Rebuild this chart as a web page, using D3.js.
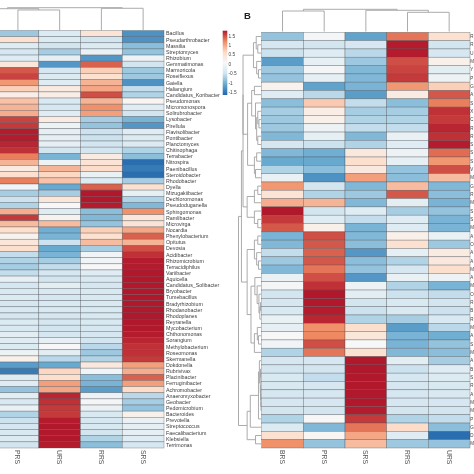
<!DOCTYPE html>
<html>
<head>
<meta charset="utf-8">
<script src="https://cdn.jsdelivr.net/npm/d3@7"></script>
<style>
html,body{margin:0;padding:0;background:#fff;overflow:hidden;width:474px;height:474px}
svg{display:block;filter:blur(0.4px)}
text{font-family:"Liberation Sans",Arial,sans-serif}
</style>
</head>
<body>
<svg id="c" width="474" height="474"></svg>
<script>
const columnsA = ["PRS","URS","RRS","SRS"];
const hiddenColumnA = "(cropped)";
const genera = ["Bacillus","Pseudarthrobacter","Massilia","Streptomyces","Rhizobium","Gemmatimonas","Marmoricola","Roseiflexus","Gaiella","Haliangium","Candidatus_Koribacter","Pseudomonas","Micromonospora","Solirubrobacter","Lysobacter","Pirellula","Flavisolibacter","Pontibacter","Planctomyces","Chitinophaga","Terrabacter","Nitrospira","Paenibacillus","Steroidobacter","Rhodobacter","Dyella","Mizugakiibacter","Dechloromonas","Pseudoduganella","Sphingomonas","Ramlibacter","Microvirga","Nocardia","Phenylobacterium","Opitutus","Devosia","Acidibacter","Rhizomicrobium","Terracidiphilus","Variibacter","Aquicella","Candidatus_Solibacter","Bryobacter","Tumebacillus","Bradyrhizobium","Rhodanobacter","Rhodoplanes","Reyranella","Mycobacterium","Chthonomonas","Sorangium","Methylobacterium","Roseomonas","Skermanella","Dokdonella","Rubrivivax","Placinibacter","Ferruginibacter","Achromobacter","Anaeromyxobacter","Geobacter","Pedomicrobium","Bacteroides","Prevotella","Streptococcus","Faecalibacterium","Klebsiella","Terrimonas"];
const valuesA = [
[-.8,-.35,.45,-1.3],[.5,-.35,-.5,-1.3],[-.3,-.5,-.35,-.9],[-.45,-.75,-.15,-.85],[-.3,-.2,-1.25,-.1],
[.4,-1.25,1.4,-.5],[1.45,-.45,.7,-.8],[1.55,-.35,.5,-.8],[1.1,-.3,.9,-1.3],[.7,.3,1,-.6],
[.25,.25,1.5,-.7],[.8,-.4,.9,.1],[.9,-.45,1.15,-.3],[.95,-.3,1.05,-.5],[1.55,.3,-.75,-1],
[1.6,-.1,-.85,-1.25],[1.75,-.2,-.55,-.3],[1.75,-.2,-.55,-.35],[1.7,-.2,-.5,-.35],[1.65,-.5,-.5,-.7],
[1.25,-1,.3,-.9],[.9,-.1,.45,-1.6],[.3,.9,.6,-1.5],[.5,.65,-.15,-1.6],[1.25,.8,-.35,-.75],
[-.05,-1.1,1.4,.5],[-.75,-.75,1.77,-.2],[-.55,.4,1.77,-.7],[-.7,.05,1.75,-.95],[.95,-.3,-.9,1.15],
[1.6,.15,-.95,.4],[.85,.85,-.85,.45],[.55,-1.05,.7,1],[.15,-1,.5,1.4],[.4,-.55,.85,.9],
[.55,-1.1,-.75,1.5],[-.6,-1,-.05,1.65],[-.7,-.75,-.05,1.75],[-.75,-.6,.05,1.75],[-.6,-.45,-.3,1.77],
[-.2,-.5,-.4,1.77],[-.45,-.25,-.45,1.77],[-.4,-.4,-.4,1.77],[-.35,-.45,-.4,1.77],[-.45,-.4,-.4,1.77],
[-.4,-.4,-.4,1.77],[-.45,-.45,-.4,1.77],[-.35,-.45,-.4,1.77],[-.4,-.5,-.45,1.77],[-.25,-.45,-.45,1.75],
[-.3,-.2,-.5,1.7],[-.35,.05,-.65,1.65],[-.1,-.25,-.8,1.65],[.2,-.65,-.7,1.6],[-1.2,-1.1,.35,1.05],
[-1.5,.65,-.05,.95],[-.35,.55,-.9,1.4],[-.3,1.05,-1,1.05],[-.85,1,-1.2,.6],[-.25,1.7,-.1,-.65],
[-.4,1.65,0,-.75],[-.15,1.6,-.15,-.85],[-.7,1.6,-.4,.2],[-.55,1.75,-.45,-.15],[-.45,1.77,-.4,-.2],
[-.4,1.77,-.5,-.2],[-.35,1.77,-.7,-.3],[-.5,1.75,-.9,-.45]
];
const columnsB = ["BRS","PRS","SRS","RRS","URS"];
const rowInitialsB = ["R","R","U","M","Y","P","G","A","S","X","C","R","R","S","S","S","V","M","G","R","M","S","S","M","A","O","A","A","M","A","M","O","R","B","R","M","A","S","M","A","B","S","R","A","M","M","P","G","D","M"];
const valuesB = [
[-.85,0,-1.15,1.3,.5],[-.45,-.5,-.45,1.75,-.5],[-.55,-.3,-.65,1.75,-.45],[-1.2,-.2,-.8,1.5,.2],[-.8,0,-.95,1.55,-.25],
[-.85,-.2,-.95,1.6,-.1],[.15,-1.15,-1,1.1,.7],[-.3,-.65,-1.2,.3,1.45],[-.9,.75,-.6,-.9,1.25],[-.75,.25,-.75,-.75,1.65],
[-.8,.2,-.7,-.7,1.6],[-.8,-.1,-.6,-.6,1.7],[-.95,-.2,-.95,-.15,1.65],[-.45,-.55,-.7,-.3,1.75],[-.95,-1.05,.35,-.1,1.35],
[-1.1,-1.1,.55,-.2,1.1],[-.7,-.9,.35,-.85,1.5],[-.15,-1.3,1.05,-.9,.85],[1.1,-.5,-.95,.85,-.95],[.45,-.7,-.8,1.45,-.9],
[.95,.9,-.95,-.25,-1],[1.77,-.5,-.3,-.75,-.85],[1.6,-.3,-.6,-.3,-1],[1.45,.2,-1,-.3,-1],[-1,1.5,-.95,.2,-.15],
[-.95,1.45,-.9,.5,-.8],[-.6,1.4,-1.25,-.2,.3],[-.8,1.45,-.9,-.7,.35],[-.95,1.3,-.85,-.45,.55],[-.15,1.5,-1.25,-.15,-.1],
[0,1.65,-.1,-.7,-1],[-.5,1.77,-.25,-.55,-.6],[-.45,1.77,-.5,-.4,-.5],[-.4,1.75,-.55,-.4,-.55],[-.15,1.7,-.7,-.75,-.4],
[-.2,1.15,.55,-1.2,-.65],[.05,1.2,.4,-1,-1.05],[-.05,1.5,.05,-1,-.85],[-.7,1.3,.5,-.95,-.9],[-.45,-.45,1.77,-.25,-.75],
[-.5,-.5,1.77,-.55,-.3],[-.4,-.6,1.77,-.45,-.35],[-.4,-.45,1.77,-.45,-.4],[-.45,-.45,1.77,-.45,-.4],[-.45,-.45,1.77,-.45,-.45],
[-.5,-.5,1.75,-.5,-.5],[-.7,.05,1.6,-.7,-.6],[-.35,-.95,1.3,.6,-.9],[.5,.1,1,-.3,-1.6],[1.15,-.85,.85,-.8,-.85]
];
// dendrograms: [mergeHeight, childA, childB]; leaves are row indices or column names
const treeColsA = [1,[.956,hiddenColumnA,[.9,"PRS","URS"]],[.974,"RRS","SRS"]];
const treeColsB = [1,[.923,"BRS","PRS"],[.955,"SRS",[.865,"RRS","URS"]]];
const clusterRowsA1 = [.34,[.22,0,[.15,1,2]],[.2,3,[.12,4,5]]];
const clusterRowsB1 = [.6,[.42,[.3,6,7],[.25,8,[.2,[.15,9,[.1,10,11]],[.15,12,13]]]],[.3,[.2,14,15],[.25,16,17]]];
const clusterRowsC1 = [.62,[.3,[.15,18,19],20],[.3,21,[.15,22,23]]];
const clusterRowsD1 = [.62,[.3,[.15,24,25],[.2,26,[.12,27,28]]],[.45,[.28,29,[.18,30,[.1,31,[.06,[.03,32,33],34]]]],[.3,[.17,35,[.12,36,37]],38]]];
const clusterRowsE1 = [.62,[.48,[.12,[.08,39,[.04,[.03,40,41],[.03,42,[.02,43,[.01,44,45]]]]],46],47],[.25,48,49]];
const treeRowsB = [1,[.87,[.8,[.8,clusterRowsA1,clusterRowsB1],clusterRowsC1],clusterRowsD1],clusterRowsE1];
const legendTicks = [-1.5,-1,-.5,0,.5,1,1.5];
const colorStops = ["#2166AC","#67A9CF","#D1E5F0","#F7F7F7","#FDDBC7","#EF8A62","#B2182B"];
const valueExtent = [-1.67,1.77];

const svg = d3.select("#c");
const defs = svg.append("defs");
const color = d3.scaleLinear()
  .domain(d3.range(colorStops.length).map(i=>valueExtent[0]+(valueExtent[1]-valueExtent[0])*i/(colorStops.length-1)))
  .range(colorStops).clamp(true);

function heat(g,cols,rowNames,vals,x,y){
  vals.forEach((row,r)=>{
    g.selectAll(null).data(row).join("rect")
      .attr("x",(d,i)=>x(cols[i])).attr("y",y(rowNames[r]))
      .attr("width",x.bandwidth()).attr("height",y.bandwidth())
      .attr("fill",d=>color(d)).attr("stroke","#4a4f55").attr("stroke-opacity",.6).attr("stroke-width",.55);
  });
}
function layout(node,pos,out){
  if(!Array.isArray(node)) return {p:pos(node),h:0};
  const a=layout(node[1],pos,out), b=layout(node[2],pos,out);
  out.push({h:node[0],a,b});
  return {p:(a.p+b.p)/2,h:node[0]};
}
function dendro(g,tree,pos,hs,vertical){
  const segs=[]; layout(tree,pos,segs);
  g.selectAll(null).data(segs).join("path")
    .attr("fill","none").attr("stroke","#a2a2a2").attr("stroke-width",.9)
    .attr("d",s=> vertical
      ? `M${s.a.p},${hs(s.a.h)}V${hs(s.h)}H${s.b.p}V${hs(s.b.h)}`
      : `M${hs(s.a.h)},${s.a.p}H${hs(s.h)}V${s.b.p}H${hs(s.b.h)}`);
}

// Panel A
const xA = d3.scaleBand().domain([hiddenColumnA,...columnsA]).range([-44.7,164]);
const yA = d3.scaleBand().domain(genera).range([30.5,448]);
const gA = svg.append("g");
heat(gA,columnsA,genera,valuesA,xA,yA);
dendro(gA,treeColsA,c=>xA(c)+xA.bandwidth()/2,d3.scaleLinear().domain([0,1]).range([30.5,7.7]),true);
gA.selectAll(null).data(genera).join("text")
  .attr("x",166).attr("y",d=>yA(d)+yA.bandwidth()/2).attr("dy",".36em")
  .attr("font-size",5.3).attr("fill","#3d3d3d").text(d=>d);
gA.selectAll(null).data(columnsA).join("text")
  .attr("transform",d=>`translate(${xA(d)+xA.bandwidth()/2},450) rotate(90)`).attr("dy",".36em")
  .attr("font-size",6.8).attr("fill","#555").text(d=>d);

// Panel B
const rowIdx = d3.range(valuesB.length);
const xB = d3.scaleBand().domain(columnsB).range([261.7,470]);
const yB = d3.scaleBand().domain(rowIdx).range([32.3,448]);
const gB = svg.append("g");
heat(gB,columnsB,rowIdx,valuesB,xB,yB);
dendro(gB,treeColsB,c=>xB(c)+xB.bandwidth()/2,d3.scaleLinear().domain([0,1]).range([31.5,9.3]),true);
dendro(gB,treeRowsB,i=>yB(i)+yB.bandwidth()/2,d3.scaleLinear().domain([0,1]).range([261.2,238.5]),false);
gB.selectAll(null).data(rowIdx).join("text")
  .attr("x",470.2).attr("y",i=>yB(i)+yB.bandwidth()/2).attr("dy",".36em")
  .attr("font-size",4.5).attr("fill","#3d3d3d").text(i=>rowInitialsB[i]);
gB.selectAll(null).data(columnsB).join("text")
  .attr("transform",d=>`translate(${xB(d)+xB.bandwidth()/2},450) rotate(90)`).attr("dy",".36em")
  .attr("font-size",6.8).attr("fill","#555").text(d=>d);
svg.append("text").attr("x",244).attr("y",18.5).attr("font-size",9.5).attr("font-weight","bold").attr("fill","#222").text("B");

// Legend
const legY = d3.scaleLinear().domain(valueExtent).range([95,30.7]);
const grad = defs.append("linearGradient").attr("id","lg").attr("x1",0).attr("x2",0).attr("y1",1).attr("y2",0);
grad.selectAll("stop").data(color.domain()).join("stop")
  .attr("offset",d=>(d-valueExtent[0])/(valueExtent[1]-valueExtent[0])).attr("stop-color",d=>color(d));
svg.append("rect").attr("x",222.7).attr("y",legY(valueExtent[1])).attr("width",4.6)
  .attr("height",legY(valueExtent[0])-legY(valueExtent[1])).attr("fill","url(#lg)");
const legAxis = svg.append("g").attr("transform","translate(228.5,0)")
  .call(d3.axisRight(legY).tickValues(legendTicks).tickSize(0).tickPadding(0).tickFormat(d=>String(d)));
legAxis.select(".domain").remove();
legAxis.selectAll("text").attr("font-size",4.8).attr("fill","#444").attr("font-family",'"Liberation Sans",Arial,sans-serif');
</script>
</body>
</html>
